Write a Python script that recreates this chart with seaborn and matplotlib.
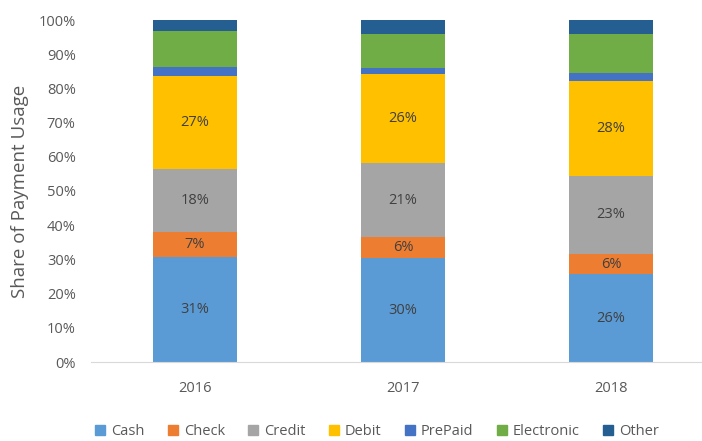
import pandas as pd
import matplotlib.pyplot as plt
import seaborn as sns
from matplotlib.ticker import PercentFormatter
from matplotlib.patches import Patch

years = ['2016', '2017', '2018']
methods = ['Cash', 'Check', 'Credit', 'Debit', 'PrePaid', 'Electronic', 'Other']
cash = [30.7, 30.4, 25.7]
check = [7.3, 6.1, 5.9]
credit = [18.4, 21.7, 22.8]
debit = [27.2, 26.0, 27.8]
prepaid = [2.7, 1.7, 2.4]
electronic = [10.5, 10.0, 11.3]
other = [3.2, 4.1, 4.1]
shown_labels = {'Cash': ['31%', '30%', '26%'], 'Check': ['7%', '6%', '6%'],
                'Credit': ['18%', '21%', '23%'], 'Debit': ['27%', '26%', '28%']}
colors = ['#5B9BD5', '#ED7D31', '#A5A5A5', '#FFC000', '#4472C4', '#70AD47', '#255E91']

df = pd.DataFrame({'year': years, 'Cash': cash, 'Check': check, 'Credit': credit,
                   'Debit': debit, 'PrePaid': prepaid, 'Electronic': electronic,
                   'Other': other})

sns.set_style('white')
plt.rcParams['font.family'] = ['Open Sans', 'DejaVu Sans']

fig = plt.figure(figsize=(7.02, 4.41), dpi=100)
# axes run a little past the right edge, like the original
ax = fig.add_axes([91 / 702, 1 - 362 / 441, 624 / 702, 342 / 441])
bottom = [0, 0, 0]
for m, c in zip(methods, colors):
    sns.barplot(x=df['year'], y=df[m], bottom=bottom, color=c, width=0.4,
                ax=ax, saturation=1, linewidth=0)
    if m in shown_labels:
        ax.bar_label(ax.containers[-1], labels=shown_labels[m], label_type='center',
                     color='#404040', fontsize=10.5)
    bottom = [b + v for b, v in zip(bottom, df[m])]

ax.set_ylim(0, 100)
ax.set_xlim(-0.5, 2.5)
ax.yaxis.set_major_locator(plt.MultipleLocator(10))
ax.yaxis.set_major_formatter(PercentFormatter(decimals=0))
ax.set_xlabel('')
ax.set_ylabel('Share of Payment Usage', color='#595959', fontsize=13.5, labelpad=7)
ax.tick_params(colors='#595959', labelsize=10.5, length=0)
ax.tick_params(axis='x', pad=14)
ax.tick_params(axis='y', pad=11)
for s in ['top', 'right', 'left']:
    ax.spines[s].set_visible(False)
ax.spines['bottom'].set_color('#D9D9D9')

handles = [Patch(color=c, label=m) for m, c in zip(methods, colors)]
fig.legend(handles=handles, loc='lower center', ncol=7, frameon=False,
           fontsize=10.5, handlelength=0.7, handleheight=0.7, handletextpad=0.4,
           columnspacing=1.6, labelcolor='#595959', bbox_to_anchor=(0.537, -0.026))

fig.savefig('out.png')
